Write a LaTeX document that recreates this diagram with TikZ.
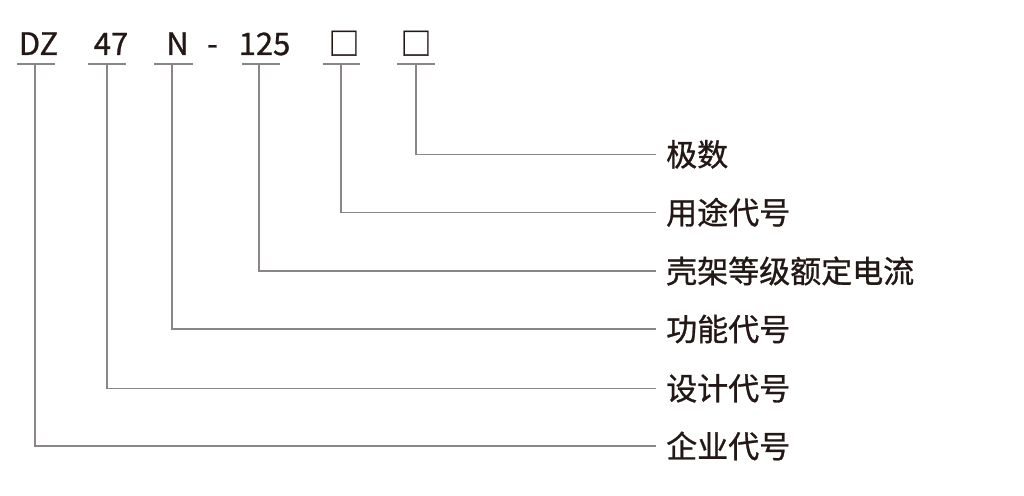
\documentclass[tikz,border=0pt]{standalone}
\usepackage{fontspec}
\setmainfont[FakeBold=0.9]{Noto Sans CJK SC}
\begin{document}
\begin{tikzpicture}[x=1pt,y=-1pt,
  code/.style={anchor=base, inner sep=0pt, font=\fontsize{31}{31}\selectfont, text=txt},
  lbl/.style={anchor=west, inner xsep=10pt, inner ysep=0pt, font=\fontsize{31}{31}\selectfont, text=txt},
  ul/.style={draw=ln, line width=1.3pt},
  conn/.style={draw=ln, line width=1.3pt}]
\definecolor{txt}{HTML}{231815}
\definecolor{ln}{HTML}{8A8686}
\useasboundingbox (0,0) rectangle (1024,495);
% codes
\node[code] (dz) at (38.5,55) {DZ};
\node[code] (n47) at (111,55) {47};
\node[code] (nn) at (177.5,55) {N};
\node[code] (dash) at (212.5,55) {-};
\node[code] (n125) at (264.5,55) {125};
\node[code] (b1) at (344,55) {□};
\node[code] (b2) at (416,55) {□};
% underline coordinates
\coordinate (u1) at (35,64);
\coordinate (u2) at (107,64);
\coordinate (u3) at (172,64);
\coordinate (u4) at (259,64);
\coordinate (u5) at (341,64);
\coordinate (u6) at (416,64);
\draw[ul] (17,64) -- (55,64);
\draw[ul] (88,64) -- (126,64);
\draw[ul] (154,64) -- (193,64);
\draw[ul] (242,64) -- (280,64);
\draw[ul] (323,64) -- (360,64);
\draw[ul] (397,64) -- (435,64);
% labels
\node[lbl] (l6) at (656,154.3) {极数};
\node[lbl] (l5) at (656,212.3) {用途代号};
\node[lbl] (l4) at (656,271) {壳架等级额定电流};
\node[lbl] (l3) at (656,329) {功能代号};
\node[lbl] (l2) at (656,388.3) {设计代号};
\node[lbl] (l1) at (656,446) {企业代号};
% connectors
\draw[conn] (u6) |- (l6.west);
\draw[conn] (u5) |- (l5.west);
\draw[conn] (u4) |- (l4.west);
\draw[conn] (u3) |- (l3.west);
\draw[conn] (u2) |- (l2.west);
\draw[conn] (u1) |- (l1.west);
\end{tikzpicture}
\end{document}
